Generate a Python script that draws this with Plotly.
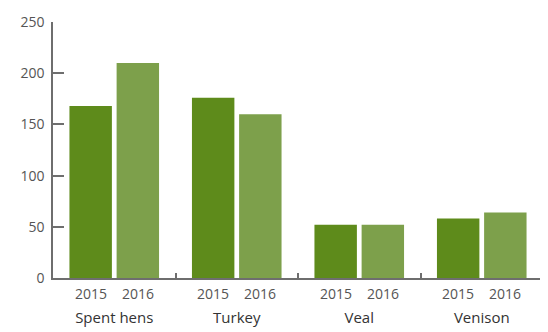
import plotly.graph_objects as go

categories = ["Spent hens", "Turkey", "Veal", "Venison"]
years = ["2015", "2016"]
values_2015 = [168, 176, 52, 58]
values_2016 = [210, 160, 52, 64]
y_ticks = [0, 50, 100, 150, 200, 250]

colors = ["#5e8b1b", "#7da04b"]
text_color = "#555555"
axis_color = "#6e6e6e"
font_family = "'Open Sans', Lato, sans-serif"

bargap = 0.23
bargroupgap = 0.1

fig = go.Figure()
for yr, vals, col in zip(years, [values_2015, values_2016], colors):
    fig.add_trace(go.Bar(x=categories, y=vals, name=yr, marker_color=col,
                         marker_line_width=0))

# year labels under each bar, positioned from the bar layout parameters
slot = (1 - bargap) / len(years)
annotations = []
for i, cat in enumerate(categories):
    for j, yr in enumerate(years):
        xc = i - (1 - bargap) / 2 + slot * (j + 0.5)
        annotations.append(dict(x=xc, y=0, xref="x", yref="y", text=yr,
                                showarrow=False, yanchor="top", yshift=-4,
                                font=dict(size=14, color=text_color, family=font_family)))

fig.update_layout(
    width=548, height=332,
    margin=dict(l=45, r=13, t=14, b=62),
    plot_bgcolor="white", paper_bgcolor="white",
    barmode="group", bargap=bargap, bargroupgap=bargroupgap,
    showlegend=False,
    annotations=annotations,
    font=dict(family=font_family, color=text_color, size=14),
)
fig.update_xaxes(
    type="category", range=[-0.5, 3.5], automargin=False,
    showline=True, linecolor=axis_color, linewidth=1.5,
    ticks="inside", tickson="boundaries", ticklen=5, tickcolor=axis_color, tickwidth=1.5,
    showgrid=False, ticklabelstandoff=25,
    tickfont=dict(size=15, color="#333333"),
)
fig.update_yaxes(
    range=[0, 250], tickvals=y_ticks, automargin=False,
    showline=True, linecolor=axis_color, linewidth=1.5,
    ticks="inside", ticklen=11, tickcolor=axis_color, tickwidth=1.5,
    showgrid=False, zeroline=False, ticklabelstandoff=4,
    tickfont=dict(size=14, color=text_color),
)

fig.write_html("out.html")
